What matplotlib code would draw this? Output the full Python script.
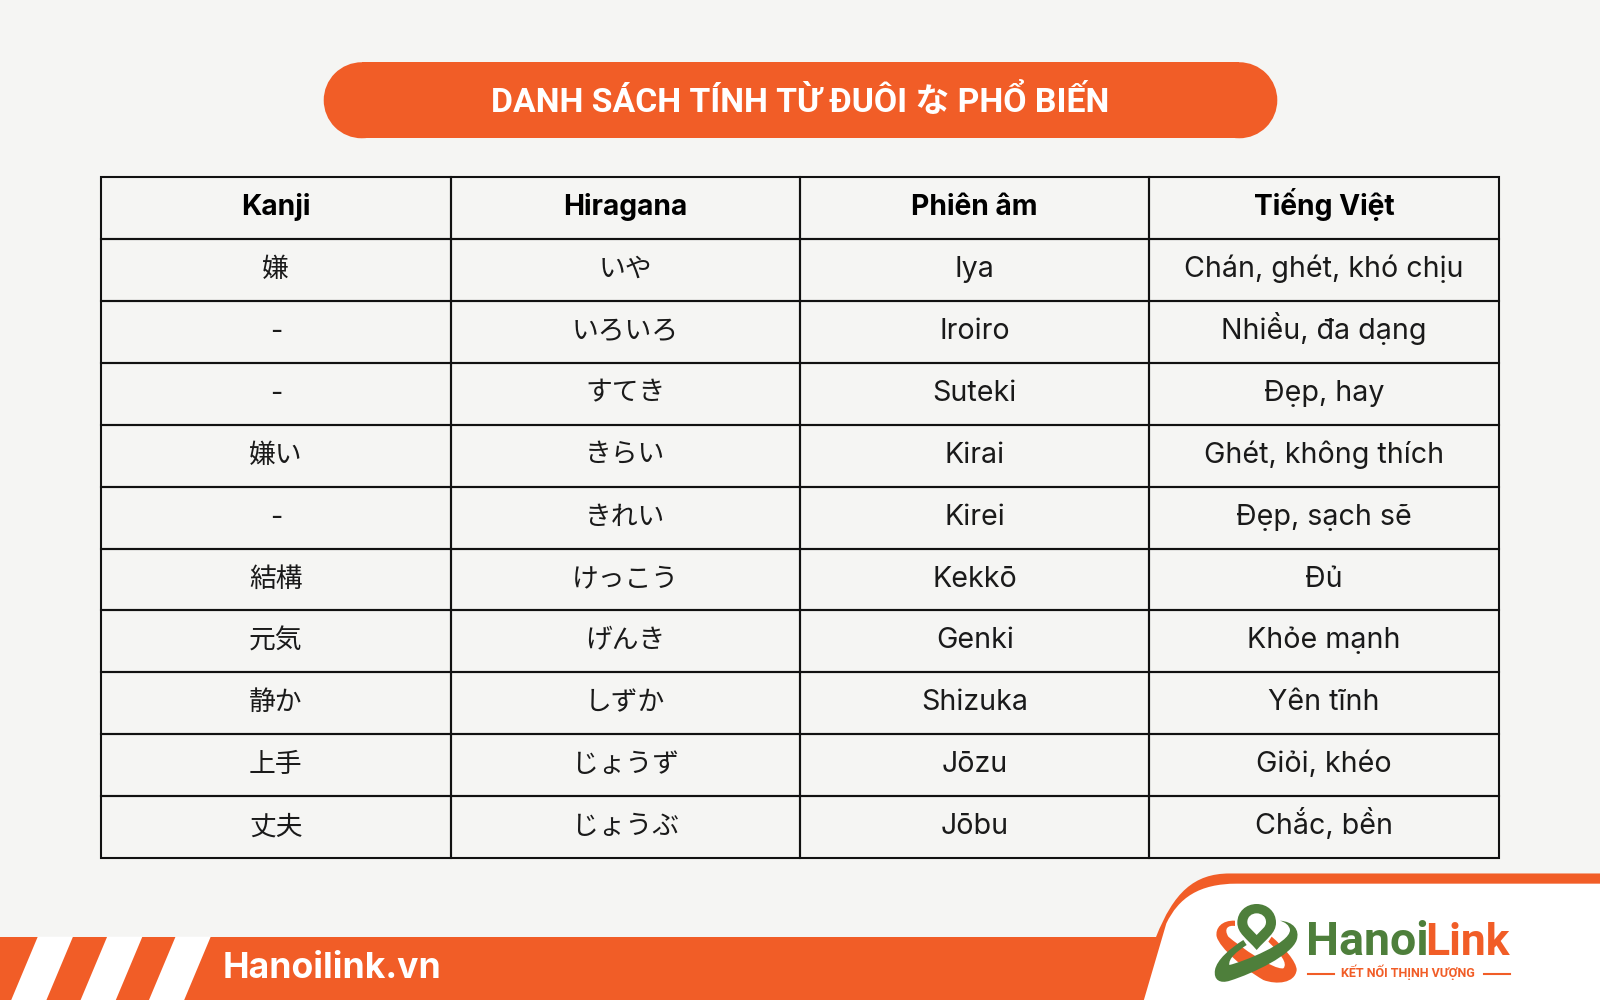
import matplotlib
matplotlib.use("Agg")
import matplotlib.pyplot as plt
from matplotlib.patches import Polygon, Rectangle, Circle, PathPatch
from matplotlib.path import Path
from matplotlib.transforms import Affine2D

BODY = ['Inter', 'Noto Sans CJK JP', 'DejaVu Sans']
HEAD = ['Roboto', 'Noto Sans CJK JP', 'DejaVu Sans']
plt.rcParams['font.family'] = BODY

title_text = "DANH SÁCH TÍNH TỪ ĐUÔI な PHỔ BIẾN"
headers = ["Kanji", "Hiragana", "Phiên âm", "Tiếng Việt"]
kanji = ["嫌", "-", "-", "嫌い", "-", "結構", "元気", "静か", "上手", "丈夫"]
hiragana = ["いや", "いろいろ", "すてき", "きらい", "きれい", "けっこう", "げんき", "しずか", "じょうず", "じょうぶ"]
romaji = ["Iya", "Iroiro", "Suteki", "Kirai", "Kirei", "Kekkō", "Genki", "Shizuka", "Jōzu", "Jōbu"]
vietnamese = ["Chán, ghét, khó chịu", "Nhiều, đa dạng", "Đẹp, hay", "Ghét, không thích", "Đẹp, sạch sẽ",
              "Đủ", "Khỏe mạnh", "Yên tĩnh", "Giỏi, khéo", "Chắc, bền"]
footer_text = "Hanoilink.vn"
logo_green, logo_orange, logo_tag = "Hanoi", "Link", "KẾT NỐI THỊNH VƯỢNG"

ORANGE = "#F15D27"
GREEN = "#4E7F3B"
PAPER = "#F5F5F3"

fig = plt.figure(figsize=(16, 10), dpi=100, facecolor=PAPER)
ax = fig.add_axes([0, 0, 1, 1])
ax.set_xlim(0, 1568)
ax.set_ylim(980, 0)
ax.axis("off")

# title pill
ax.add_patch(Rectangle((354.5, 61), 860, 74.5, fc=ORANGE, ec="none", zorder=2))
ax.add_patch(Circle((354.5, 98.25), 37.25, fc=ORANGE, ec="none", zorder=2))
ax.add_patch(Circle((1214.5, 98.25), 37.25, fc=ORANGE, ec="none", zorder=2))
ax.text(784, 99, title_text, color="white", fontsize=24.3, fontweight="bold", family=HEAD,
        ha="center", va="center", zorder=3)

# table
rows = [list(r) for r in zip(kanji, hiragana, romaji, vietnamese)]
x0, x1, y0, y1 = 99, 1469, 173.5, 841
table = ax.table(cellText=[headers] + rows, cellLoc="center",
                 bbox=[x0 / 1568, 1 - y1 / 980, (x1 - x0) / 1568, (y1 - y0) / 980],
                 transform=ax.transAxes, zorder=3)
table.auto_set_font_size(False)
for (r, c), cell in table.get_celld().items():
    cell.set_facecolor("none")
    cell.set_edgecolor("#111111")
    cell.set_linewidth(1.5)
    t = cell.get_text()
    t.set_family(BODY)
    t.set_color("#1a1a1a")
    # common baseline in every row, whatever the accents are
    t.set_verticalalignment("baseline")
    t.set_transform(Affine2D().translate(0, -7))
    if r == 0:
        t.set_fontsize(20.3)
        t.set_fontweight("bold")
        t.set_color("#000000")
    else:
        t.set_fontsize(19.3 if c < 2 else 20.6)

# footer band
ax.add_patch(Rectangle((0, 918), 1140, 62, fc=ORANGE, ec="none", zorder=2))
for xb, xt in [(11, 37), (79, 105), (146, 172)]:
    ax.add_patch(Polygon([(xb, 980), (xt, 918), (xt + 34.5, 918), (xb + 34.5, 980)],
                         closed=True, fc="white", ec="none", zorder=3))
ax.text(218, 958, footer_text, color="white", fontsize=25.6, fontweight="bold",
        ha="left", va="baseline", zorder=4)

# logo panel
C = [Path.MOVETO, Path.LINETO, Path.CURVE4, Path.CURVE4, Path.CURVE4,
     Path.LINETO, Path.LINETO, Path.CLOSEPOLY]
outer = [(1109, 980), (1133, 918), (1150, 875), (1170, 856), (1205, 856), (1568, 856), (1568, 980), (1109, 980)]
inner = [(1121, 980), (1143, 905), (1155, 880), (1175, 866), (1212, 866), (1568, 866), (1568, 980), (1121, 980)]
ax.add_patch(PathPatch(Path(outer, C), fc=ORANGE, ec="none", zorder=5))
ax.add_patch(PathPatch(Path(inner, C), fc="white", ec="none", zorder=5))

# logo mark, outlined in the 3x crop's coordinates
def z(x, y):
    return ((1200 + x / 3) * 0.98, (890 + y / 3) * 0.98)

def bez(points, fc, zo):
    verts = [z(*points[0])]
    codes = [Path.MOVETO]
    for seg in points[1:]:
        if len(seg) == 2:
            verts.append(z(*seg)); codes.append(Path.LINETO)
        else:
            verts += [z(seg[0], seg[1]), z(seg[2], seg[3]), z(seg[4], seg[5])]
            codes += [Path.CURVE4] * 3
    verts.append(verts[0]); codes.append(Path.CLOSEPOLY)
    ax.add_patch(PathPatch(Path(verts, codes), fc=fc, ec="none", zorder=zo))

bez([(105, 92), (65, 90, 45, 115, 50, 140), (60, 175, 130, 235, 190, 270),
     (230, 285, 285, 280, 290, 240), (290, 215, 250, 170, 215, 140), (205, 155),
     (240, 190, 265, 220, 250, 235), (220, 240, 120, 170, 85, 140), (70, 115, 85, 105, 105, 108)], ORANGE, 6)
bez([(240, 92), (280, 95, 300, 120, 290, 150), (275, 195, 160, 250, 90, 272),
     (60, 282, 40, 270, 45, 240), (50, 210, 90, 175, 130, 150), (140, 165),
     (110, 185, 85, 205, 88, 225), (130, 215, 270, 160, 270, 120), (268, 105, 255, 97, 240, 92)], GREEN, 7)
# pin
bez([(170, 180), (140, 145, 112, 130, 112, 98), (112, 65, 138, 42, 170, 42),
     (202, 42, 228, 65, 228, 98), (228, 130, 200, 145, 170, 180)], GREEN, 8)
bez([(170, 135), (155, 118, 142, 112, 142, 96), (142, 80, 155, 70, 170, 70),
     (185, 70, 198, 80, 198, 96), (198, 112, 185, 118, 170, 135)], "white", 9)

ax.text(1280, 936, logo_green, color=GREEN, fontsize=33.5, fontweight="bold", family=HEAD,
        ha="left", va="baseline", zorder=7)
ax.text(*z(675, 195), logo_orange, color=ORANGE, fontsize=32, fontweight="bold", family=HEAD,
        ha="left", va="baseline", zorder=7)
ax.text(1380, 953, logo_tag, color=ORANGE, fontsize=9, fontweight="bold", family=HEAD,
        ha="center", va="center", zorder=7)
ax.plot([1282, 1307], [955, 955], color=ORANGE, lw=1.5, zorder=7)
ax.plot([1454, 1480], [955, 955], color=ORANGE, lw=1.5, zorder=7)

fig.savefig("out.png", dpi=100, facecolor=PAPER)
